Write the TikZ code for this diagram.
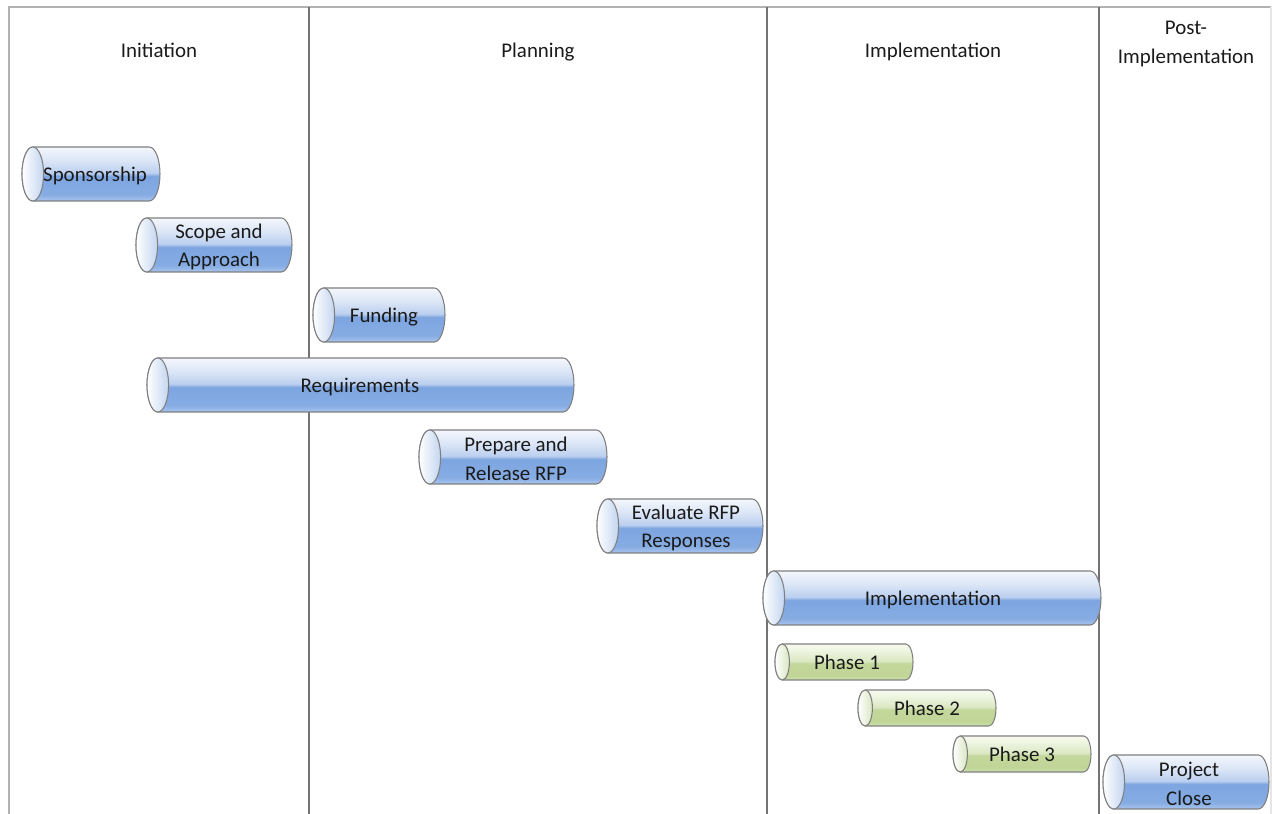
\documentclass[tikz,border=0pt]{standalone}
\usepackage{fontspec}
\setmainfont{Carlito}
\usetikzlibrary{positioning}

\definecolor{edgegray}{HTML}{7F7F7F}
\definecolor{textblack}{HTML}{1A1A1A}
\definecolor{blueEnd}{HTML}{C3D5F0}
\definecolor{greenEnd}{HTML}{DAE6C2}
\definecolor{blueA}{HTML}{AAC5EE}
\definecolor{blueB}{HTML}{86ACE3}
\definecolor{blueC}{HTML}{7DA5E0}
\definecolor{blueD}{HTML}{BBCFEF}
\definecolor{blueE}{HTML}{DAE5F6}
\definecolor{blueF}{HTML}{F4F7FC}
\definecolor{greenA}{HTML}{D0E1AF}
\definecolor{greenB}{HTML}{C0D597}
\definecolor{greenC}{HTML}{C4D79C}
\definecolor{greenD}{HTML}{DAE7C1}
\definecolor{greenE}{HTML}{E9F1D9}
\definecolor{greenF}{HTML}{F8FBF0}

\pgfdeclareverticalshading{blueSide}{100bp}{color(0bp)=(blueA); color(25bp)=(blueA);
    color(31bp)=(blueB); color(48bp)=(blueC); color(51bp)=(blueD); color(62bp)=(blueE);
    color(75bp)=(blueF); color(100bp)=(blueF)}
\pgfdeclareverticalshading{greenSide}{100bp}{color(0bp)=(greenA); color(25bp)=(greenA);
    color(31bp)=(greenB); color(48bp)=(greenC); color(51bp)=(greenD); color(62bp)=(greenE);
    color(75bp)=(greenF); color(100bp)=(greenF)}

\tikzset{
    every node/.style={font=\fontsize{11.9}{16.2}\selectfont, text=textblack},
    oneline/.style={text height=.96em, text depth=.16em},
    twoline/.style={align=center, yshift=-.4mm},
    frame/.style={draw=black!30, line width=1pt},
    divider/.style={draw=black!55, line width=1.1pt},
    outline/.style={draw=edgegray, line width=.6pt},
}

\begin{document}
\begin{tikzpicture}[x=0.02cm, y=0.02cm]
    \useasboundingbox (0,0) rectangle (1272,814);

    % frame and phase columns
    \draw [frame] (9,0) -- (9,807) -- (1271,807);
    \draw [frame, draw=black!10] (1271,807) -- (1271,0);
    \foreach \x in {309,767,1099}
        \draw [divider] (\x,0) -- (\x,807);

    \node [oneline] (initHead) at (159,764) {Initiation};
    \node [oneline] (planHead) at (538,764) {Planning};
    \node [oneline] (implHead) at (933,764) {Implementation};
    \node [twoline] (postHead) at (1186,772) {Post-\\Implementation};

    % bars: name/left/right/center y/height/colour/text x/style/text
    \foreach \nm/\xa/\xb/\yc/\h/\col/\tx/\st/\t in {
        spons/22/160/640/54/blue/95/oneline/Sponsorship,
        scope/136/292/569/54/blue/219/twoline/{Scope and\\Approach},
        fund/313/445/499/54/blue/384/oneline/Funding,
        req/147/574/429/54/blue/360/oneline/Requirements,
        rfp/419/607/357/54/blue/516/twoline/{Prepare and\\Release RFP},
        eval/597/763/288/54/blue/686/twoline/{Evaluate RFP\\Responses},
        impl/763/1101/216/54/blue/933/oneline/Implementation,
        ph1/775/913/152/36/green/847/oneline/Phase 1,
        ph2/858/996/106/36/green/927/oneline/Phase 2,
        ph3/953/1091/60/36/green/1022/oneline/Phase 3,
        close/1103/1269/32/54/blue/1189/twoline/{Project\\Close}}{
        \shade [shading=\col Side, outline]
            (\xa+.2*\h,\yc+\h/2) -- (\xb-.2*\h,\yc+\h/2)
            arc [start angle=90, end angle=-90, x radius=.2*\h, y radius=\h/2]
            -- (\xa+.2*\h,\yc-\h/2)
            arc [start angle=270, end angle=90, x radius=.2*\h, y radius=\h/2] -- cycle;
        \shade [left color=white, right color=\col End, outline]
            (\xa+.2*\h,\yc) ellipse [x radius=.2*\h, y radius=\h/2];
        \node [\st] (\nm) at (\tx,\yc) {\t};
    }
\end{tikzpicture}
\end{document}
